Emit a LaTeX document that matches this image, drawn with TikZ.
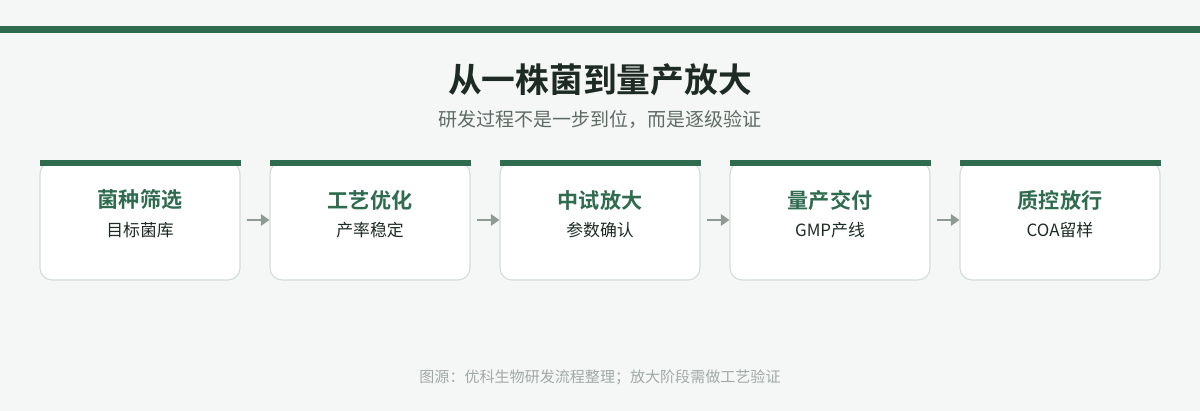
\documentclass[tikz,border=0pt]{standalone}
\usepackage{fontspec}
\setmainfont{Noto Sans CJK SC}
\newfontfamily\cjkb{Noto Sans CJK SC Bold}
\usetikzlibrary{arrows.meta,positioning}

\definecolor{bgcol}{HTML}{F5F7F6}
\definecolor{brand}{HTML}{2E6B4F}
\definecolor{edgecol}{HTML}{D3DCD7}
\definecolor{ink}{HTML}{1E2B24}
\definecolor{subink}{HTML}{5E6B64}
\definecolor{flowcol}{HTML}{8E9A93}
\definecolor{noteink}{HTML}{A0AAA5}

\tikzset{
  card/.style={draw=edgecol, line width=0.8pt, fill=white, rectangle, rounded corners=0.3cm,
    minimum width=5cm, minimum height=2.95cm, inner sep=0pt},
  cardbar/.style={fill=brand},
  stagetitle/.style={text=brand, font=\cjkb\fontsize{15}{17}\selectfont, inner sep=0pt},
  stagenote/.style={text=ink, font=\fontsize{12}{14}\selectfont, inner sep=0pt},
  flow/.style={draw=flowcol, line width=2pt, -{Triangle[length=6pt,width=8pt]}, shorten <=4.3pt}
}

\begin{document}
\begin{tikzpicture}[x=0.025cm,y=-0.025cm]
  \fill[bgcol] (0,0) rectangle (1200,411);
  \fill[brand] (0,26) rectangle (1200,33);

  \node[text=ink, font=\cjkb\fontsize{24}{27}\selectfont] (title) at (600,80) {从一株菌到量产放大};
  \node[text=subink, font=\fontsize{13.5}{15}\selectfont] (subtitle) at (600,119) {研发过程不是一步到位，而是逐级验证};

  % stages
  \node[card] (s1) at (140,221) {};
  \node[card] (s2) at (370,221) {};
  \node[card] (s3) at (600,221) {};
  \node[card] (s4) at (830,221) {};
  \node[card] (s5) at (1060,221) {};

  \fill[cardbar] (40,160) rectangle (241,166);
  \fill[cardbar] (270,160) rectangle (471,166);
  \fill[cardbar] (500,160) rectangle (701,166);
  \fill[cardbar] (730,160) rectangle (931,166);
  \fill[cardbar] (960,160) rectangle (1161,166);

  \node[stagetitle] (t1) at (140,200) {菌种筛选};
  \node[stagenote] (n1) at (140,230) {目标菌库};
  \node[stagetitle] (t2) at (370,200) {工艺优化};
  \node[stagenote] (n2) at (370,230) {产率稳定};
  \node[stagetitle] (t3) at (600,200) {中试放大};
  \node[stagenote] (n3) at (600,230) {参数确认};
  \node[stagetitle] (t4) at (830,200) {量产交付};
  \node[stagenote] (n4) at (830,230) {GMP产线};
  \node[stagetitle] (t5) at (1060,200) {质控放行};
  \node[stagenote] (n5) at (1060,230) {COA留样};

  \draw[flow] (s1.east |- 0,220) -- (s2.west |- 0,220);
  \draw[flow] (s2.east |- 0,220) -- (s3.west |- 0,220);
  \draw[flow] (s3.east |- 0,220) -- (s4.west |- 0,220);
  \draw[flow] (s4.east |- 0,220) -- (s5.west |- 0,220);

  \node[text=noteink, font=\fontsize{10.7}{12}\selectfont] (source) at (600,377) {图源：优科生物研发流程整理；放大阶段需做工艺验证};
\end{tikzpicture}
\end{document}
